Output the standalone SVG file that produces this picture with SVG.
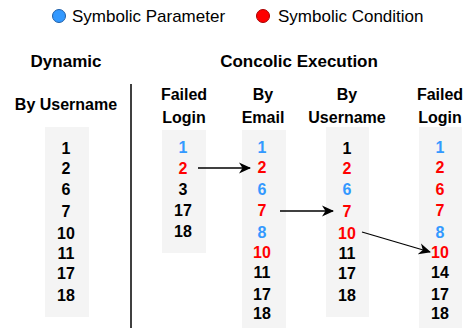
<svg xmlns="http://www.w3.org/2000/svg" width="464" height="328" viewBox="0 0 464 328">
<defs>
<style>
.t{font-family:"Liberation Sans",Arial,sans-serif;font-weight:bold;font-size:16px;text-anchor:middle;fill:#000}
.h{font-size:17px}
.b{fill:#3399ff}
.r{fill:#ff0000}
.lg{font-family:"Liberation Sans",Arial,sans-serif;font-size:17px;fill:#000}
.box{fill:#f4f4f4}
.c{stroke:#000;stroke-width:1.3;fill:none;marker-end:url(#ah)}
</style>
<marker id="ah" viewBox="0 0 12 12" refX="11" refY="6" markerWidth="12" markerHeight="12" markerUnits="userSpaceOnUse" orient="auto">
<path d="M0,0.5 L12,6 L0,11.5 L3.5,6 Z" fill="#000"/>
</marker>
</defs>
<rect width="464" height="328" fill="#fff"/>
<g id="legend">
<circle cx="59" cy="16" r="6.5" fill="#3399ff" stroke="#1f5fa8" stroke-width="1"/>
<text class="lg" x="72" y="22">Symbolic Parameter</text>
<circle cx="263" cy="16" r="6.5" fill="#ff0000" stroke="#a80000" stroke-width="1"/>
<text class="lg" x="278" y="22">Symbolic Condition</text>
</g>
<g id="headings">
<text class="t h" x="66" y="67">Dynamic</text>
<text class="t h" x="299" y="67">Concolic Execution</text>
<line x1="131" y1="84" x2="131" y2="328" stroke="#000" stroke-width="1.5"/>
</g>
<g id="dyn-username">
<text class="t" x="66" y="110">By Username</text>
<rect class="box" x="45" y="127" width="44" height="190"/>
<text class="t" x="66" y="154">1</text>
<text class="t" x="66" y="174">2</text>
<text class="t" x="66" y="195">6</text>
<text class="t" x="66" y="217">7</text>
<text class="t" x="66" y="239">10</text>
<text class="t" x="66" y="259">11</text>
<text class="t" x="66" y="279">17</text>
<text class="t" x="66" y="301">18</text>
</g>
<g id="con-failed1">
<text class="t" x="184" y="100">Failed</text>
<text class="t" x="184" y="123">Login</text>
<rect class="box" x="162" y="130" width="44" height="123"/>
<text class="t b" x="183" y="153">1</text>
<text class="t r" x="183" y="174">2</text>
<text class="t" x="183" y="195">3</text>
<text class="t" x="183" y="216">17</text>
<text class="t" x="183" y="237">18</text>
</g>
<g id="con-email">
<text class="t" x="263" y="100">By</text>
<text class="t" x="263" y="123">Email</text>
<rect class="box" x="242" y="130" width="44" height="198"/>
<text class="t b" x="262" y="153">1</text>
<text class="t r" x="262" y="173">2</text>
<text class="t b" x="262" y="195">6</text>
<text class="t r" x="262" y="216">7</text>
<text class="t b" x="262" y="238">8</text>
<text class="t r" x="262" y="258">10</text>
<text class="t" x="262" y="278">11</text>
<text class="t" x="262" y="300">17</text>
<text class="t" x="262" y="319">18</text>
</g>
<g id="con-username">
<text class="t" x="347" y="100">By</text>
<text class="t" x="347" y="123">Username</text>
<rect class="box" x="326" y="127" width="43" height="190"/>
<text class="t" x="347" y="154">1</text>
<text class="t r" x="347" y="174">2</text>
<text class="t b" x="347" y="195">6</text>
<text class="t r" x="347" y="217">7</text>
<text class="t r" x="347" y="239">10</text>
<text class="t" x="347" y="259">11</text>
<text class="t" x="347" y="279">17</text>
<text class="t" x="347" y="301">18</text>
</g>
<g id="con-failed2">
<text class="t" x="440" y="100">Failed</text>
<text class="t" x="440" y="123">Login</text>
<rect class="box" x="419" y="127" width="43" height="201"/>
<text class="t b" x="440" y="153">1</text>
<text class="t r" x="440" y="173">2</text>
<text class="t r" x="440" y="195">6</text>
<text class="t r" x="440" y="216">7</text>
<text class="t b" x="440" y="238">8</text>
<text class="t r" x="440" y="258">10</text>
<text class="t" x="440" y="278">14</text>
<text class="t" x="440" y="300">17</text>
<text class="t" x="440" y="319">18</text>
</g>
<g id="connectors">
<line class="c" x1="198" y1="168" x2="250" y2="168"/>
<line class="c" x1="280" y1="211" x2="333" y2="211"/>
<line class="c" x1="362" y1="232" x2="430" y2="252"/>
</g>
</svg>
